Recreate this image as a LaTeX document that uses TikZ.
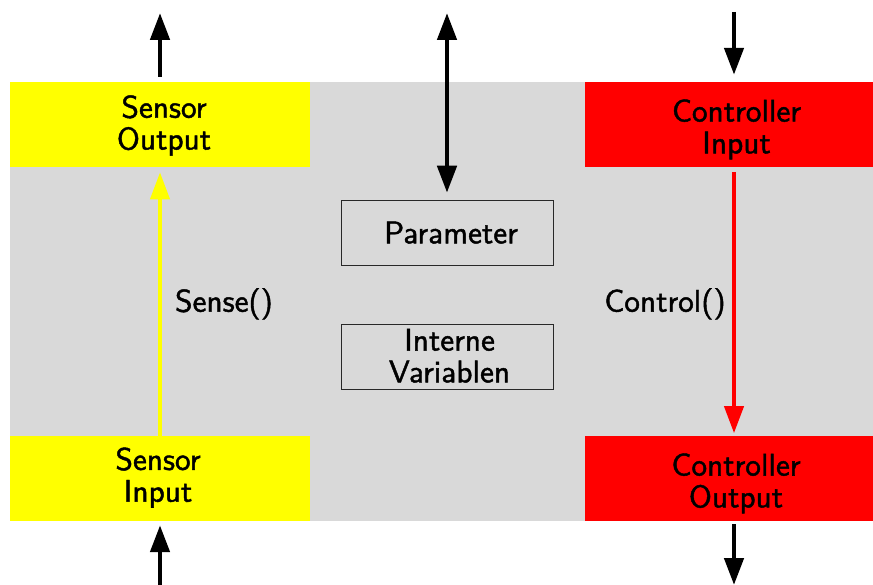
\documentclass[tikz,border=0pt]{standalone}
\usepackage{fontspec}
\usetikzlibrary{arrows.meta}
% slightly heavier Latin Modern Sans for all captions
\newfontfamily\capfont{lmsans10-regular.otf}[FakeBold=1.4]
\definecolor{panelgray}{RGB}{217,217,217}
\definecolor{boxline}{RGB}{40,40,40}
\definecolor{sensoryellow}{RGB}{255,255,0}
\definecolor{ctrlred}{RGB}{255,0,0}
\begin{document}
\begin{tikzpicture}[x=1pt,y=-1pt,
  every node/.style={inner sep=0pt, outer sep=0pt},
  txt/.style={font=\capfont\fontsize{10}{10.15}\selectfont, scale=3.13, anchor=base},
  portbox/.style={minimum width=300pt, minimum height=85pt},
  sensorbox/.style={portbox, fill=sensoryellow},
  ctrlbox/.style={minimum width=288pt, minimum height=85pt, fill=ctrlred},
  databox/.style={draw=boxline, line width=1pt, fill=panelgray, minimum width=212pt, minimum height=64.5pt},
  boxtext/.style={txt, align=center},
  flow/.style={line width=4.6pt, -{Triangle[length=27pt,width=19pt]}},
  biflow/.style={line width=4.6pt, {Triangle[length=27pt,width=19pt]}-{Triangle[length=27pt,width=19pt]}},
  senseflow/.style={line width=4pt, sensoryellow, -{Triangle[length=27pt,width=19pt]}},
  ctrlflow/.style={line width=4pt, ctrlred, -{Triangle[length=27pt,width=19pt]}}]
\useasboundingbox (0,0) rectangle (873,585);

% module body
\fill[panelgray] (10,82) rectangle (873,521);

% ports and internal data
\node[sensorbox] (so) at (160,124.3) {};
\node[sensorbox] (si) at (160,478.2) {};
\node[ctrlbox] (ci) at (729,124.3) {};
\node[ctrlbox] (co) at (729,478.2) {};
\node[databox] (par) at (447,233) {};
\node[databox] (var) at (447,357.2) {};

% box captions, placed by the baseline of their last line
\node[boxtext] (sot) at (164,149.5) {Sensor\\Output};
\node[boxtext] (sit) at (158,501.7) {Sensor\\Input};
\node[boxtext] (cit) at (736.5,153.3) {Controller\\Input};
\node[boxtext] (cot) at (736,507.3) {Controller\\Output};
\node[boxtext] (part) at (451,243.3) {Parameter};
\node[boxtext] (vart) at (449.5,382.3) {Interne\\Variablen};

% operation labels
\node[txt] (sense) at (224,311.7) {Sense()};
\node[txt] (ctrl) at (665,311.7) {Control()};

% outer ends of the connectors
\coordinate (soout) at (160,13);
\coordinate (siin) at (160,585);
\coordinate (parext) at (447,13);
\coordinate (ciin) at (734,12);
\coordinate (coout) at (734,585);

% connectors
\draw[flow, shorten <=5pt] (so.north) -- (soout);
\draw[senseflow, shorten >=5.5pt] (si.north) -- (so.south);
\draw[flow, shorten >=4.5pt] (siin) -- (si.south);
\draw[biflow, shorten >=8pt] (parext) -- (par.north);
\draw[flow, shorten >=7pt] (ciin) -- (ciin |- ci.north);
\draw[ctrlflow, shorten <=5pt, shorten >=2.5pt] (ciin |- ci.south) -- (ciin |- co.north);
\draw[flow, shorten <=3.5pt] (ciin |- co.south) -- (coout);
\end{tikzpicture}
\end{document}
